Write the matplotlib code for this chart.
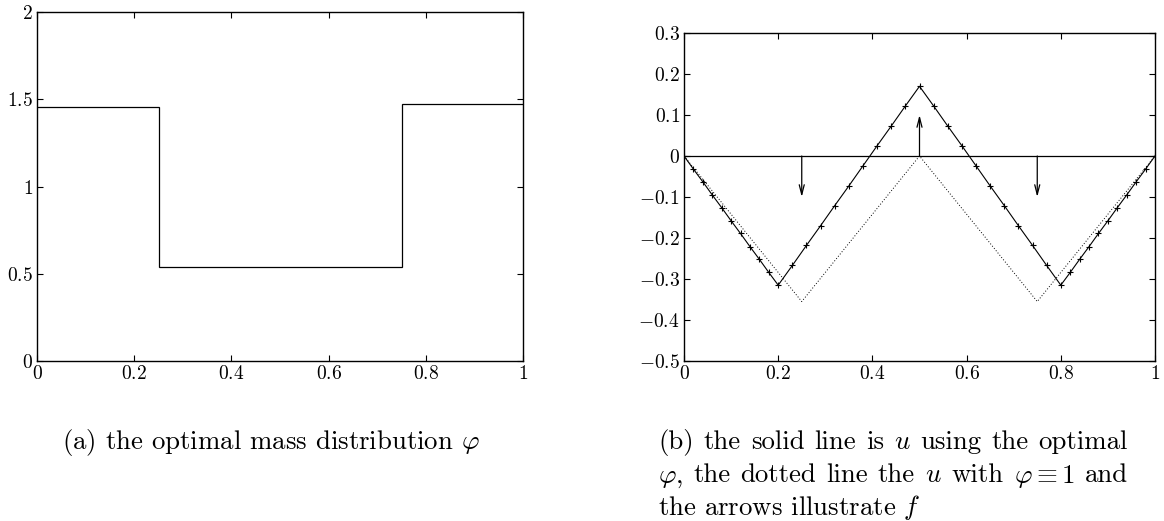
import matplotlib
matplotlib.use("Agg")
import matplotlib.pyplot as plt

plt.rcParams["font.family"] = "cmr10"
plt.rcParams["mathtext.fontset"] = "cm"
plt.rcParams["axes.formatter.use_mathtext"] = True

# (a) optimal mass distribution: piecewise constant on four cells
phi_edges = [0.0, 0.25, 0.5, 0.75, 1.0]
phi_values = [1.458, 0.536, 0.536, 1.475]

# (b) displacement u at the mesh nodes for the optimal phi
u_x = [0.00, 0.02, 0.04, 0.06, 0.08, 0.10, 0.12, 0.14, 0.16, 0.18, 0.20,
       0.23, 0.26, 0.29, 0.32, 0.35, 0.38, 0.41, 0.44, 0.47, 0.50,
       0.53, 0.56, 0.59, 0.62, 0.65, 0.68, 0.71, 0.74, 0.77, 0.80,
       0.82, 0.84, 0.86, 0.88, 0.90, 0.92, 0.94, 0.96, 0.98, 1.00]
u_opt = [0.000, -0.032, -0.063, -0.095, -0.126, -0.158, -0.189, -0.221, -0.252, -0.284, -0.315,
         -0.267, -0.218, -0.170, -0.121, -0.073, -0.024, 0.025, 0.073, 0.122, 0.170,
         0.122, 0.073, 0.025, -0.024, -0.073, -0.121, -0.170, -0.218, -0.267, -0.315,
         -0.284, -0.252, -0.221, -0.189, -0.158, -0.126, -0.095, -0.063, -0.032, 0.000]

# u for the uniform distribution phi = 1
u_unif_x = [0.0, 0.25, 0.5, 0.75, 1.0]
u_unif = [0.0, -0.355, 0.0, -0.355, 0.0]

# load f, shown as arrows from the zero line
f_x = [0.25, 0.5, 0.75]
f_val = [-0.1, 0.1, -0.1]

xticks = [0, 0.2, 0.4, 0.6, 0.8, 1.0]
xtick_labels = ["$0$", "$0.2$", "$0.4$", "$0.6$", "$0.8$", "$1$"]
phi_yticks = [0, 0.5, 1, 1.5, 2]
phi_ytick_labels = ["$0$", "$0.5$", "$1$", "$1.5$", "$2$"]
u_yticks = [-0.5, -0.4, -0.3, -0.2, -0.1, 0, 0.1, 0.2, 0.3]
u_ytick_labels = ["$-0.5$", "$-0.4$", "$-0.3$", "$-0.2$", "$-0.1$",
                  "$0$", "$0.1$", "$0.2$", "$0.3$"]

# caption of (b), one list of words per line
cap_b = [["(b)", "the", "solid", "line", "is", "$u$", "using", "the", "optimal"],
         [r"$\varphi$,", "the", "dotted", "line", "the", "$u$", "with",
          r"$\varphi\equiv 1$", "and"],
         ["the", "arrows", "illustrate", "$f$"]]

W, H = 1164, 521
fig = plt.figure(figsize=(W / 100, H / 100), dpi=100)

ax_a = fig.add_axes([37 / W, 1 - 361 / H, 486 / W, 349 / H])
ax_b = fig.add_axes([684 / W, 1 - 361 / H, 471 / W, 328 / H])

tick_fs = 14
for ax in (ax_a, ax_b):
    ax.tick_params(direction="in", length=4, width=0.8, top=True, right=True,
                   labelsize=tick_fs, pad=3)
    for s in ax.spines.values():
        s.set_linewidth(1.0)
    ax.set_xlim(0, 1)
    ax.set_xticks(xticks)
    ax.set_xticklabels(xtick_labels)

# panel (a)
ax_a.stairs(phi_values, phi_edges, baseline=None, color="black", linewidth=0.9)
ax_a.set_ylim(0, 2)
ax_a.set_yticks(phi_yticks)
ax_a.set_yticklabels(phi_ytick_labels)

# panel (b)
ax_b.plot([0, 1], [0, 0], color="black", linewidth=0.9)
ax_b.plot(u_unif_x, u_unif, color="black", linewidth=0.7, linestyle=(0, (1, 2)))
ax_b.plot(u_x, u_opt, color="black", linewidth=0.8, marker="+", markersize=4,
          markeredgewidth=0.8)
for xf, fv in zip(f_x, f_val):
    ax_b.annotate("", xy=(xf, fv), xytext=(xf, 0),
                  arrowprops=dict(arrowstyle="->,head_length=0.7,head_width=0.18",
                                  color="black", lw=0.9, shrinkA=0, shrinkB=0))
ax_b.set_ylim(-0.5, 0.3)
ax_b.set_yticks(u_yticks)
ax_b.set_yticklabels(u_ytick_labels)

# captions
cap_fs = 19.3
fig.text(62 / W, 1 - 449 / H, r"(a) the optimal mass distribution $\varphi$",
         fontsize=cap_fs, ha="left", va="baseline")

cap_left, cap_right = 658, 1128
baselines = [449, 482.5, 515.5]
renderer = fig.canvas.get_renderer()
for i, words in enumerate(cap_b):
    y = 1 - baselines[i] / H
    if i == len(cap_b) - 1:
        fig.text(cap_left / W, y, " ".join(words), fontsize=cap_fs,
                 ha="left", va="baseline")
        continue
    # justified line: spread words so the line fills the caption width
    texts = [fig.text(0, y, w, fontsize=cap_fs, ha="left", va="baseline") for w in words]
    widths = [t.get_window_extent(renderer).width for t in texts]
    gap = (cap_right - cap_left - sum(widths)) / (len(words) - 1)
    x = cap_left
    for t, w in zip(texts, widths):
        t.set_x(x / W)
        x += w + gap

fig.savefig("out.png", dpi=100)
